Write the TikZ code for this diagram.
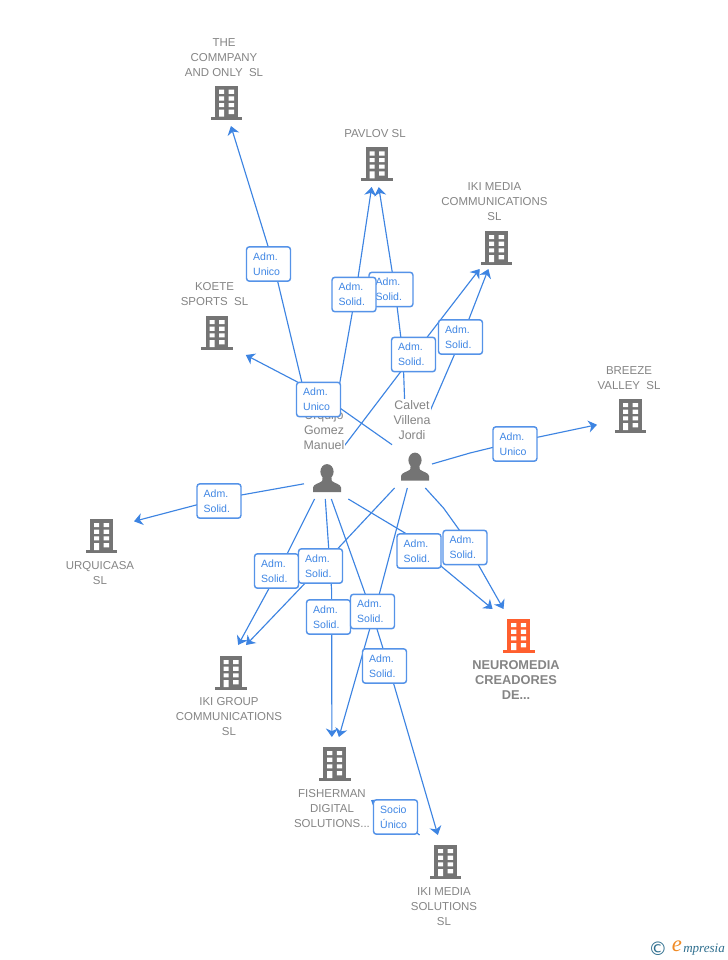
\documentclass[tikz,border=0pt]{standalone}
\usepackage{fontspec}
\setmainfont{Liberation Sans}
\newfontfamily\logoserif{Liberation Serif}
\newfontfamily\logosym{DejaVu Sans}
\usetikzlibrary{arrows.meta,calc}
\definecolor{linkblue}{HTML}{3D84E2}
\definecolor{boxblue}{HTML}{5593E8}
\definecolor{boxtext}{HTML}{3F86E4}
\definecolor{labelgray}{HTML}{858585}
\definecolor{icongray}{HTML}{747474}
\definecolor{iconorange}{HTML}{FF5F2E}
\definecolor{logoteal}{HTML}{2F6F8F}
\definecolor{logoorange}{HTML}{F08A24}
\tikzset{
  bldgnode/.style={minimum width=49.5pt,minimum height=37.5pt,inner sep=0pt,outer sep=0pt},
  personone/.style={minimum width=34.5pt,minimum height=36.75pt,inner sep=0pt,outer sep=0pt},
  persontwo/.style={minimum width=30pt,minimum height=36pt,inner sep=0pt,outer sep=0pt},
  linkarrow/.style={draw=linkblue,line width=0.85pt,line join=round,-{Stealth[length=6.4pt,width=9pt,inset=2pt]}},
  graytext/.style={text=labelgray,align=center,inner sep=0pt,font=\fontsize{8.6pt}{11.25pt}\selectfont},
  nametext/.style={text=labelgray,align=center,inner xsep=0.5pt,inner ysep=1pt,fill=white,font=\fontsize{9.3pt}{11.25pt}\selectfont},
  boldtext/.style={text=labelgray,align=center,inner sep=0pt,font=\fontsize{9.6pt}{11.25pt}\selectfont\bfseries},
  boxlabel/.style={draw=boxblue,line width=1.1pt,rounded corners=2.2pt,fill=white,text=boxtext,
     align=left,text width=23pt,inner xsep=5pt,inner ysep=0pt,minimum height=25.8pt,
     font=\fontsize{7.9pt}{11.25pt}\selectfont},
  pics/bldg/.style={code={
    \fill[#1] (-11.3,-17) rectangle (11.3,14);
    \fill[#1] (-15.8,14) rectangle (15.8,16.8);
    \fill[white] (-7.5,-13) rectangle (-2.3,-8.8) (2.2,-13) rectangle (7.5,-8.8)
                 (-7.5,-6.3) rectangle (-2.3,-2.2) (2.2,-6.3) rectangle (7.5,-2.2)
                 (-7.5,0.3) rectangle (-2.3,4.4) (2.2,0.3) rectangle (7.5,4.4)
                 (-7.5,7) rectangle (-2.3,14) (2.2,7) rectangle (7.5,11.3);
  }},
  pics/persona/.style={code={
    \fill[icongray] (0,-6.8) ellipse (6.6 and 7.6);
    \fill[icongray] (-14,13.5) -- (-14,9) .. controls (-13.8,5.5) and (-7.5,5) .. (-4.8,2.4)
       -- (-4.2,-3) -- (4.2,-3) -- (4.8,2.4) .. controls (7.5,5) and (13.8,5.5) .. (14,9) -- (14,13.5) -- cycle;
  }}
}
\begin{document}
\begin{tikzpicture}[x=0.75pt,y=-0.75pt]
\useasboundingbox (0,0) rectangle (728,960);
\fill[white] (0,0) rectangle (728,960);

% icons
\pic at (226.5,102.7) {bldg=icongray};
\pic at (377,164.3) {bldg=icongray};
\pic at (496.5,248) {bldg=icongray};
\pic at (217,333) {bldg=icongray};
\pic at (630.5,416) {bldg=icongray};
\pic at (101.5,536) {bldg=icongray};
\pic at (231,673) {bldg=icongray};
\pic at (334.7,764) {bldg=icongray};
\pic at (445.5,862) {bldg=icongray};
\pic at (518.7,636) {bldg=iconorange};
\pic at (327,478.5) {persona};
\pic at (415,467) {persona};

% anchor nodes
\node[bldgnode] (company) at (226.5,101) {};
\node[bldgnode] (pavlov) at (377,162) {};
\node[bldgnode] (ikicomm) at (496.5,244) {};
\node[bldgnode] (koete) at (217,330) {};
\node[bldgnode] (breeze) at (630,414) {};
\node[bldgnode] (urqui) at (101,534) {};
\node[bldgnode] (ikigroup) at (231,670) {};
\node[bldgnode] (fisher) at (334.5,762) {};
\node[bldgnode] (ikisol) at (445.5,860) {};
\node[bldgnode] (neuro) at (518.5,634) {};
\node[personone] (pone) at (327,474.5) {};
\node[persontwo] (ptwo) at (412,464) {};
\coordinate (socioend) at (371,800);

% connectors
\draw[linkarrow] (pone.110) -- (273.5,264) -- (company.-80.9);
\draw[linkarrow] (pone.88) -- (355.5,294.5) -- (pavlov.-102.4);
\draw[linkarrow] (ptwo.104) -- (403,355) -- (395,289.5) -- (pavlov.-86.6);
\draw[linkarrow] (pone.60.3) -- (413.8,354.5) -- (ikicomm.-124.2);
\draw[linkarrow] (ptwo.77.3) -- (462,337) -- (ikicomm.-108.8);
\draw[linkarrow] (ptwo.0) -- (470,453) -- (515,442) -- (breeze.198.4);
\draw[linkarrow] (pone.202.4) -- (219,499) -- (urqui.21.5);
\draw[linkarrow] (pone.-117.9) -- (278.5,571) -- (ikigroup.74.4);
\draw[linkarrow] (ptwo.-126.9) -- (321.5,566) -- (ikigroup.59);
\draw[linkarrow] (pone.-94.7) -- (331.6,590) -- (fisher.96.8);
\draw[linkarrow] (pone.-80.7) -- (371.5,611.5) -- (388.5,666) -- (ikisol.107.8);
\draw[linkarrow] (ptwo.-101.8) -- (374.7,611.5) -- (fisher.80.9);
\draw[linkarrow] (pone.-49.4) -- (405,533) -- (441.7,566.7) -- (neuro.136.1);
\draw[linkarrow] (ptwo.-61.6) -- (443.5,508) -- (459.3,530) -- (478.3,564.7) -- (neuro.121);
\draw[linkarrow] (ikisol.136.7) -- (395.5,817) -- (socioend);

% texts
\node[graytext] (tcompany) at (224,57.5) {THE\\COMMPANY\\AND ONLY~~SL};
\node[graytext] (tpavlov) at (375,133.5) {PAVLOV SL};
\node[graytext] (tikicomm) at (494.5,201.5) {IKI MEDIA\\COMMUNICATIONS\\SL};
\node[graytext] (tkoete) at (214.5,294.5) {KOETE\\SPORTS~~SL};
\node[graytext] (tbreeze) at (629,378) {BREEZE\\VALLEY~~SL};
\node[graytext] (turqui) at (100,573) {URQUICASA\\SL};
\node[graytext] (tikigroup) at (229,717) {IKI GROUP\\COMMUNICATIONS\\SL};
\node[graytext] (tfisher) at (332,808.5) {FISHERMAN\\DIGITAL\\SOLUTIONS...};
\node[graytext] (tikisol) at (444,906.5) {IKI MEDIA\\SOLUTIONS\\SL};
\node[boldtext] (tneuro) at (516,680) {NEUROMEDIA\\CREADORES\\DE...};
\node[nametext] (tpone) at (324,430) {Urquijo\\Gomez\\Manuel};
\node[nametext] (tptwo) at (412,420) {Calvet\\Villena\\Jordi};

% this line runs above the name of the first person
\draw[linkarrow] (ptwo.136.5) -- (318.5,393) -- (koete.-41.6);

% relation boxes
\node[boxlabel] (lb1) at (268.5,264) {Adm.\\Unico};
\node[boxlabel] (lb3) at (391,289.5) {Adm.\\Solid.};
\node[boxlabel] (lb2) at (354,294.5) {Adm.\\Solid.};
\node[boxlabel] (lb5) at (460.5,337) {Adm.\\Solid.};
\node[boxlabel] (lb4) at (413.5,354.5) {Adm.\\Solid.};
\node[boxlabel] (lb6) at (318.5,399.5) {Adm.\\Unico};
\node[boxlabel] (lb7) at (515,444) {Adm.\\Unico};
\node[boxlabel] (lb8) at (219,501) {Adm.\\Solid.};
\node[boxlabel] (lb9) at (276.5,571) {Adm.\\Solid.};
\node[boxlabel] (lb10) at (320.5,566) {Adm.\\Solid.};
\node[boxlabel] (lb11) at (328.5,617) {Adm.\\Solid.};
\node[boxlabel] (lb12) at (372.5,611.5) {Adm.\\Solid.};
\node[boxlabel] (lb13) at (419,551) {Adm.\\Solid.};
\node[boxlabel] (lb14) at (465,547.5) {Adm.\\Solid.};
\node[boxlabel] (lb15) at (384.5,666) {Adm.\\Solid.};
\node[boxlabel] (lb16) at (395.5,817) {Socio\\Único};

% logo
\node[text=logoteal,inner sep=0pt,font=\logosym\fontsize{14pt}{14pt}\selectfont] (logoc) at (658,949) {©};
\node[text=logoorange,inner sep=0pt,font=\logoserif\itshape\fontsize{17pt}{17pt}\selectfont] (logoe) at (677,946.5) {e};
\node[text=logoteal,inner sep=0pt,anchor=west,font=\logoserif\itshape\fontsize{9.8pt}{11pt}\selectfont] (logot) at (683,950) {mpresia};
\end{tikzpicture}
\end{document}
